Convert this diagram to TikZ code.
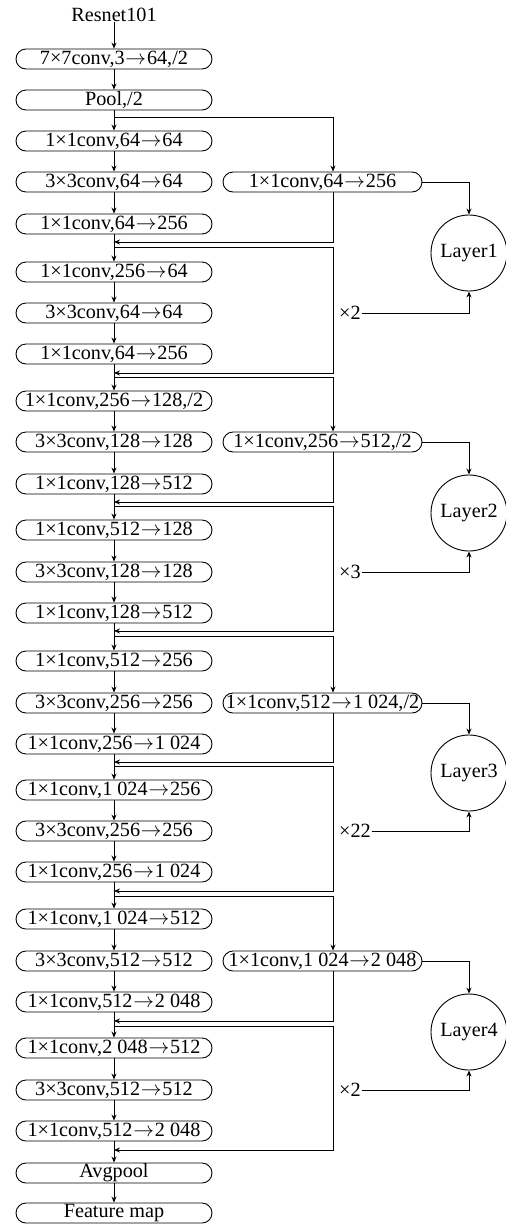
\documentclass[tikz,border=0pt]{standalone}
\usepackage{fontspec}
\setmainfont{Liberation Serif}
\usetikzlibrary{arrows.meta}
\newcommand{\myra}{\kern0.04em$\rightarrow$\kern0.04em}
\begin{document}
\begin{tikzpicture}[x=1pt,y=-1pt,
  font=\fontsize{20.2}{22}\selectfont,
  box/.style={draw, line width=0.9pt, rounded corners=10pt, minimum width=196pt, minimum height=20pt, inner sep=0pt},
  rbox/.style={box, minimum width=199pt},
  circ/.style={draw, line width=0.9pt, circle, minimum size=76pt, inner sep=0pt},
  arr/.style={-{Stealth[length=6pt,width=5pt]}, line width=0.9pt},
  lab/.style={inner sep=1pt, anchor=west}]
\useasboundingbox (0,0) rectangle (506,1227);
% main column
\node[inner sep=0pt] (top) at (114,15) {Resnet101};
\node[box] (b1) at (114,59) {7×7conv,3\myra 64,/2};
\node[box] (b2) at (114,100) {Pool,/2};
\node[box] (b3) at (114,141) {1×1conv,64\myra 64};
\node[box] (b4) at (114,182) {3×3conv,64\myra 64};
\node[box] (b5) at (114,224) {1×1conv,64\myra 256};
\node[box] (b6) at (114,272) {1×1conv,256\myra 64};
\node[box] (b7) at (114,313) {3×3conv,64\myra 64};
\node[box] (b8) at (114,354) {1×1conv,64\myra 256};
\node[box] (b9) at (114,401) {1×1conv,256\myra 128,/2};
\node[box] (b10) at (114,442) {3×3conv,128\myra 128};
\node[box] (b11) at (114,484) {1×1conv,128\myra 512};
\node[box] (b12) at (114,530) {1×1conv,512\myra 128};
\node[box] (b13) at (114,572) {3×3conv,128\myra 128};
\node[box] (b14) at (114,613) {1×1conv,128\myra 512};
\node[box] (b15) at (114,661) {1×1conv,512\myra 256};
\node[box] (b16) at (114,703) {3×3conv,256\myra 256};
\node[box] (b17) at (114,744) {1×1conv,256\myra 1 024};
\node[box] (b18) at (114,790) {1×1conv,1 024\myra 256};
\node[box] (b19) at (114,831) {3×3conv,256\myra 256};
\node[box] (b20) at (114,872) {1×1conv,256\myra 1 024};
\node[box] (b21) at (114,919) {1×1conv,1 024\myra 512};
\node[box] (b22) at (114,961) {3×3conv,512\myra 512};
\node[box] (b23) at (114,1002) {1×1conv,512\myra 2 048};
\node[box] (b24) at (114,1048) {1×1conv,2 048\myra 512};
\node[box] (b25) at (114,1090) {3×3conv,512\myra 512};
\node[box] (b26) at (114,1131) {1×1conv,512\myra 2 048};
\node[box] (b27) at (114,1173) {Avgpool};
\node[box] (b28) at (114,1213) {Feature map};
% right boxes
\node[rbox] (R1) at (322.5,182) {1×1conv,64\myra 256};
\node[rbox] (R2) at (322.5,442) {1×1conv,256\myra 512,/2};
\node[rbox] (R3) at (322.5,703) {1×1conv,512\myra 1 024,/2};
\node[rbox] (R4) at (322.5,961) {1×1conv,1 024\myra 2 048};
% circles
\node[circ] (L1) at (469,253) {Layer1};
\node[circ] (L2) at (469,513) {Layer2};
\node[circ] (L3) at (469,773) {Layer3};
\node[circ] (L4) at (469,1032) {Layer4};
% repeat labels
\node[lab] (x1) at (338,313) {×2};
\node[lab] (x2) at (338,572) {×3};
\node[lab] (x3) at (338,831) {×22};
\node[lab] (x4) at (338,1090) {×2};
% coordinates
\coordinate (sx) at (333,0);
\coordinate (s0) at (114,117);
\coordinate (m1) at (114,242); \coordinate (j1) at (114,247); \coordinate (m2) at (114,373);
\coordinate (j2) at (114,377);
\coordinate (m3) at (114,502); \coordinate (j3) at (114,506); \coordinate (m4) at (114,631);
\coordinate (j4) at (114,636);
\coordinate (m5) at (114,762); \coordinate (j5) at (114,766); \coordinate (m6) at (114,891);
\coordinate (j6) at (114,896);
\coordinate (m7) at (114,1021); \coordinate (j7) at (114,1026); \coordinate (m8) at (114,1150);
% main arrows
\draw[arr] (top.south) -- (b1.north);
\foreach \a/\b in {b1/b2,b2/b3,b3/b4,b4/b5,b5/b6,b6/b7,b7/b8,b8/b9,b9/b10,b10/b11,b11/b12,b12/b13,b13/b14,b14/b15,b15/b16,b16/b17,b17/b18,b18/b19,b19/b20,b20/b21,b21/b22,b22/b23,b23/b24,b24/b25,b25/b26,b26/b27,b27/b28}
  \draw[arr] (\a.south) -- (\b.north);
% branches
\foreach \s/\r/\m/\j/\n in {s0/R1/m1/j1/m2, j2/R2/m3/j3/m4, j4/R3/m5/j5/m6, j6/R4/m7/j7/m8}{
  \draw[arr] (\s) -| (sx |- \r.north);
  \draw[arr] (sx |- \r.south) |- (\m);
  \draw[arr] (\j) -| (sx |- \n) -- (\n);
}
% to circles
\foreach \r/\l/\x in {R1/L1/x1, R2/L2/x2, R3/L3/x3, R4/L4/x4}{
  \draw[arr] (\r.east) -| (\l.north);
  \draw[arr] (\x.east) -| (\l.south);
}
\end{tikzpicture}
\end{document}
